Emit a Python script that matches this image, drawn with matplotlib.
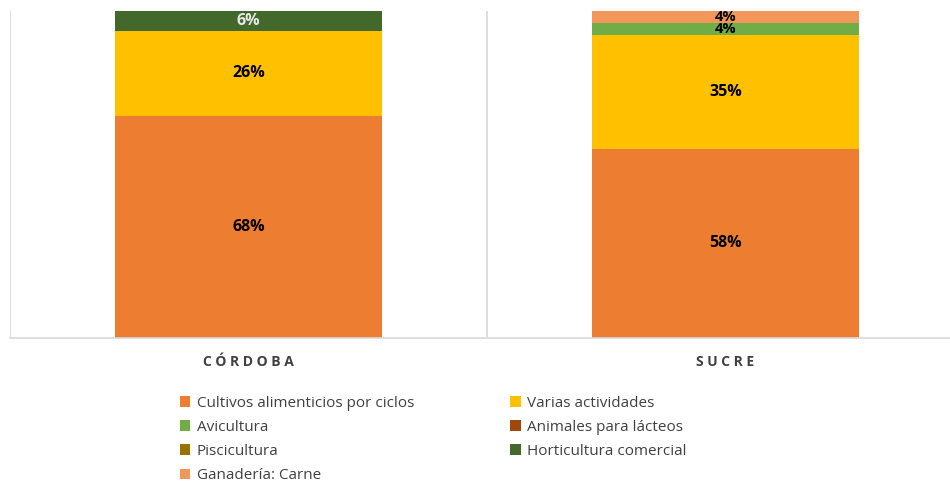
import numpy as np
import matplotlib
matplotlib.use("Agg")
import matplotlib.pyplot as plt

plt.rcParams['font.family'] = ['Open Sans', 'DejaVu Sans']

# Data: share of each activity per department (stack order bottom -> top)
departments = ["CÓRDOBA", "SUCRE"]
series_names = ["Cultivos alimenticios por ciclos", "Varias actividades", "Avicultura",
                "Animales para lácteos", "Piscicultura", "Horticultura comercial",
                "Ganadería: Carne"]
cultivos = [0.679, 0.578]
varias = [0.260, 0.349]
avicultura = [0.0, 0.037]
lacteos = [0.0, 0.0]
piscicultura = [0.0, 0.0]
horticultura = [0.061, 0.0]
ganaderia = [0.0, 0.036]

colors = ["#ED7D31", "#FFC000", "#70AD47", "#9E480E", "#997300", "#43682B", "#F1975A"]
label_colors = ["#000000", "#000000", "#000000", "#000000", "#000000", "#E8E8E8", "#000000"]

series = [cultivos, varias, avicultura, lacteos, piscicultura, horticultura, ganaderia]

fig = plt.figure(figsize=(9.5, 4.88), dpi=100)
# axis runs past the right edge of the picture, as in the reference
ax = fig.add_axes([10 / 950, 1 - 338 / 488, 954 / 950, 327 / 488])

x = np.arange(len(departments))
bottom = np.zeros(len(departments))
handles = []
for name, vals, col, lc in zip(series_names, series, colors, label_colors):
    vals = np.array(vals)
    bars = ax.bar(x, vals, 0.558, bottom=bottom, color=col, label=name, zorder=2)
    handles.append(bars)
    for xi, v, b in zip(x, vals, bottom):
        if v > 0:
            fs = 11.5 if v > 0.05 else 10.5
            ax.text(xi, b + v / 2, f"{round(v * 100):.0f}%", ha="center", va="center",
                    fontsize=fs, fontweight="bold", color=lc, zorder=3)
    bottom += vals

ax.set_xlim(-0.5, len(departments) - 0.5)
ax.set_ylim(0, 1)
ax.set_yticks([])
ax.set_xticks(x)
ax.set_xticklabels([" ".join(d) for d in departments], fontsize=10, fontweight="bold",
                   color="#404040")
ax.tick_params(axis="x", length=0, pad=12)
# category separators
for b in [-0.5, 0.5, 1.5]:
    ax.axvline(b, color="#D9D9D9", lw=1.2, zorder=1)
for s in ["top", "right", "left"]:
    ax.spines[s].set_visible(False)
ax.spines["bottom"].set_color("#D9D9D9")
ax.spines["bottom"].set_linewidth(1.2)

# legend order: row-wise as in the reference (matplotlib fills columns first)
order = [0, 2, 4, 6, 1, 3, 5]
leg = fig.legend([handles[i] for i in order], [series_names[i] for i in order],
                 ncol=2, loc="upper left", bbox_to_anchor=(166 / 950, 1 - 382 / 488),
                 frameon=False, fontsize=11, handlelength=0.7, handleheight=0.7,
                 handletextpad=0.4, columnspacing=6.3, labelspacing=0.6,
                 labelcolor="#404040")

fig.savefig("out.png", dpi=100)
